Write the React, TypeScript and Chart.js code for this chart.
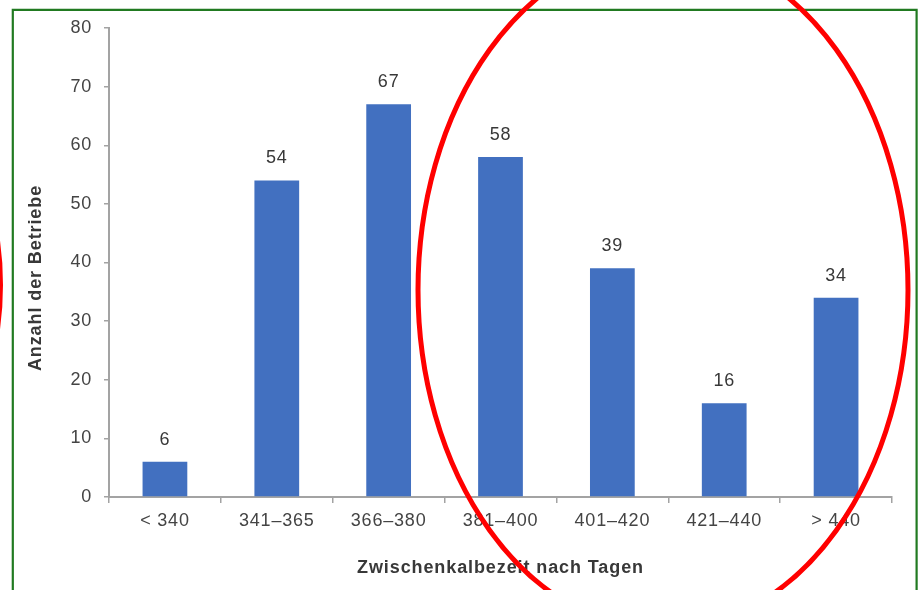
import React, { useEffect, useRef } from "react";
import { Chart, registerables } from "chart.js";

Chart.register(...registerables);

// Zwischenkalbezeit classes (days) and number of farms per class
const categories = ["< 340", "341–365", "366–380", "381–400", "401–420", "421–440", "> 440"];
const betriebe = [6, 54, 67, 58, 39, 16, 34];

const yMin = 0;
const yMax = 80;
const yStep = 10;

const xTitle = "Zwischenkalbezeit nach Tagen";
const yTitle = "Anzahl der Betriebe";

const FONT = "'Liberation Sans', Arial, sans-serif";
const BAR_COLOR = "#4270C0";
const AXIS_COLOR = "#a3a3a3";
const TEXT_COLOR = "#444444";

const W = 918;
const H = 590;

// Value labels above bars, axis titles, frame and the hand-drawn red markings
const decorations = {
  id: "decorations",
  beforeDraw(chart: any) {
    const ctx = chart.ctx;
    ctx.save();
    ctx.fillStyle = "#ffffff";
    ctx.fillRect(0, 0, W, H);
    ctx.restore();
    ctx.letterSpacing = "0.8px";
  },
  afterDatasetsDraw(chart: any) {
    const ctx = chart.ctx;
    const meta = chart.getDatasetMeta(0);
    ctx.save();
    ctx.font = `18px ${FONT}`;
    ctx.fillStyle = "#383838";
    ctx.textAlign = "center";
    ctx.textBaseline = "middle";
    meta.data.forEach((bar: any, i: number) => {
      ctx.fillText(String(betriebe[i]), bar.x, bar.y - 22);
    });
    ctx.restore();
  },
  afterDraw(chart: any) {
    const ctx = chart.ctx;
    const area = chart.chartArea;
    ctx.save();
    // axis titles
    ctx.font = `bold 18px ${FONT}`;
    ctx.letterSpacing = "0.9px";
    ctx.fillStyle = "#383838";
    ctx.textAlign = "center";
    ctx.textBaseline = "middle";
    ctx.fillText(xTitle, (area.left + area.right) / 2, 568);
    ctx.translate(36, 278);
    ctx.rotate(-Math.PI / 2);
    ctx.fillText(yTitle, 0, 0);
    ctx.restore();

    ctx.save();
    // green frame
    ctx.strokeStyle = "#217a21";
    ctx.lineWidth = 2.2;
    ctx.beginPath();
    ctx.moveTo(12.8, H + 5);
    ctx.lineTo(12.8, 9.8);
    ctx.lineTo(916.6, 9.8);
    ctx.lineTo(916.6, H + 5);
    ctx.stroke();

    // red ellipses
    ctx.strokeStyle = "#ff0000";
    ctx.lineWidth = 5;
    ctx.beginPath();
    ctx.ellipse(663, 290, 245, 340, 0, 0, Math.PI * 2);
    ctx.stroke();
    ctx.beginPath();
    ctx.ellipse(-121, 285, 121.5, 200, 0, 0, Math.PI * 2);
    ctx.stroke();
    ctx.restore();
  },
};

export default function App() {
  const canvasRef = useRef<HTMLCanvasElement | null>(null);

  useEffect(() => {
    const canvas = canvasRef.current;
    if (!canvas) return;
    const chart = new Chart(canvas, {
      type: "bar",
      data: {
        labels: categories,
        datasets: [
          {
            data: betriebe,
            backgroundColor: BAR_COLOR,
            borderWidth: 0,
            categoryPercentage: 1,
            barPercentage: 0.4,
          },
        ],
      },
      options: {
        animation: false,
        responsive: false,
        devicePixelRatio: 1,
        layout: { padding: { left: 0, top: 28, right: 26, bottom: 0 } },
        plugins: {
          legend: { display: false },
          tooltip: { enabled: false },
        },
        scales: {
          x: {
            afterFit: (scale: any) => {
              scale.height = 93;
            },
            grid: {
              drawOnChartArea: false,
              drawTicks: true,
              tickLength: 6,
              color: AXIS_COLOR,
              lineWidth: 1.5,
              offset: true,
            },
            border: { display: true, color: AXIS_COLOR, width: 2 },
            ticks: {
              color: TEXT_COLOR,
              font: { family: FONT, size: 18 },
              padding: 7,
              maxRotation: 0,
              autoSkip: false,
            },
          },
          y: {
            min: yMin,
            max: yMax,
            afterFit: (scale: any) => {
              scale.width = 109;
            },
            ticks: {
              stepSize: yStep,
              color: TEXT_COLOR,
              font: { family: FONT, size: 18 },
              padding: 12,
            },
            grid: {
              drawOnChartArea: false,
              drawTicks: true,
              tickLength: 5,
              color: AXIS_COLOR,
              lineWidth: 1.5,
            },
            border: { display: true, color: AXIS_COLOR, width: 2 },
          },
        },
      },
      plugins: [decorations],
    });
    return () => chart.destroy();
  }, []);

  return (
    <div style={{ position: "fixed", left: 0, top: 0, width: W, height: H, background: "#fff" }}>
      <canvas ref={canvasRef} width={W} height={H} style={{ display: "block" }} />
    </div>
  );
}
